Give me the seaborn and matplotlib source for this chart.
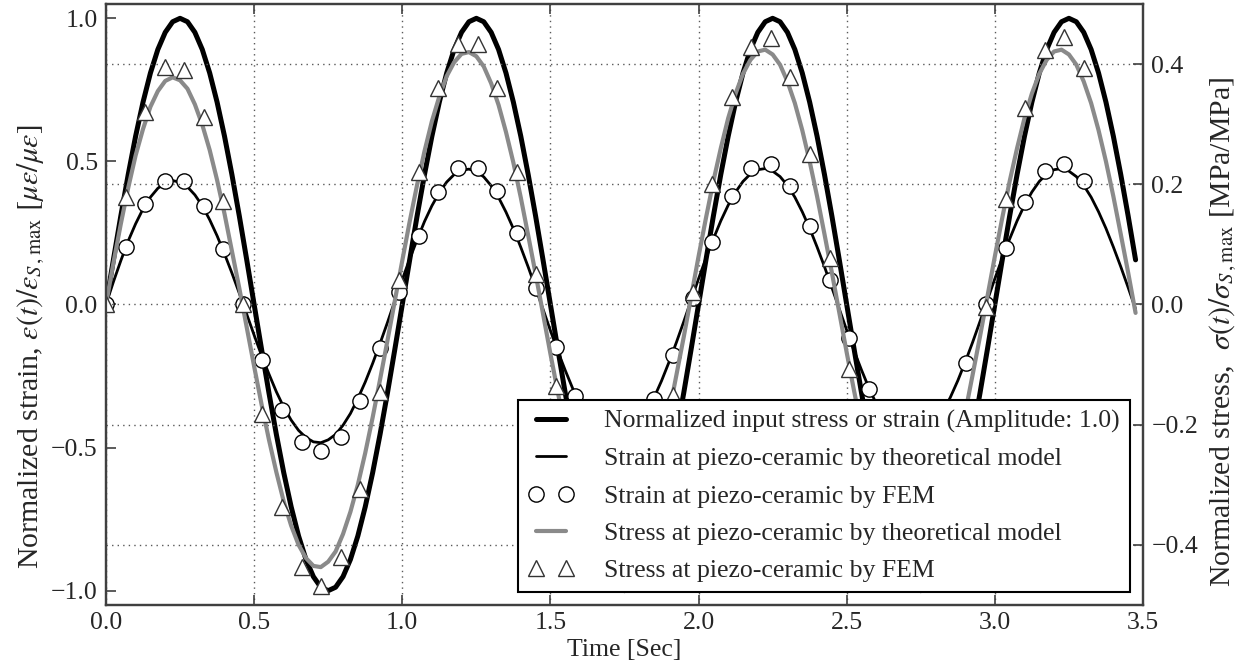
import matplotlib
matplotlib.use("Agg")
import matplotlib.pyplot as plt
import seaborn as sns

# ---------------------------------------------------------------------------
# Analytical curves, sampled every 0.025 s
# ---------------------------------------------------------------------------
time_model = [
    0.000, 0.025, 0.050, 0.075, 0.100, 0.125, 0.150, 0.175, 0.200, 0.225,
    0.250, 0.275, 0.300, 0.325, 0.350, 0.375, 0.400, 0.425, 0.450, 0.475,
    0.500, 0.525, 0.550, 0.575, 0.600, 0.625, 0.650, 0.675, 0.700, 0.725,
    0.750, 0.775, 0.800, 0.825, 0.850, 0.875, 0.900, 0.925, 0.950, 0.975,
    1.000, 1.025, 1.050, 1.075, 1.100, 1.125, 1.150, 1.175, 1.200, 1.225,
    1.250, 1.275, 1.300, 1.325, 1.350, 1.375, 1.400, 1.425, 1.450, 1.475,
    1.500, 1.525, 1.550, 1.575, 1.600, 1.625, 1.650, 1.675, 1.700, 1.725,
    1.750, 1.775, 1.800, 1.825, 1.850, 1.875, 1.900, 1.925, 1.950, 1.975,
    2.000, 2.025, 2.050, 2.075, 2.100, 2.125, 2.150, 2.175, 2.200, 2.225,
    2.250, 2.275, 2.300, 2.325, 2.350, 2.375, 2.400, 2.425, 2.450, 2.475,
    2.500, 2.525, 2.550, 2.575, 2.600, 2.625, 2.650, 2.675, 2.700, 2.725,
    2.750, 2.775, 2.800, 2.825, 2.850, 2.875, 2.900, 2.925, 2.950, 2.975,
    3.000, 3.025, 3.050, 3.075, 3.100, 3.125, 3.150, 3.175, 3.200, 3.225,
    3.250, 3.275, 3.300, 3.325, 3.350, 3.375, 3.400, 3.425, 3.450, 3.475,
]

# normalized input stress / strain (amplitude 1.0)
input_norm = [
    0.000, 0.156, 0.309, 0.454, 0.588, 0.707, 0.809, 0.891, 0.951, 0.988,
    1.000, 0.988, 0.951, 0.891, 0.809, 0.707, 0.588, 0.454, 0.309, 0.156,
    0.000, -0.156, -0.309, -0.454, -0.588, -0.707, -0.809, -0.891, -0.951, -0.988,
    -1.000, -0.988, -0.951, -0.891, -0.809, -0.707, -0.588, -0.454, -0.309, -0.156,
    0.000, 0.156, 0.309, 0.454, 0.588, 0.707, 0.809, 0.891, 0.951, 0.988,
    1.000, 0.988, 0.951, 0.891, 0.809, 0.707, 0.588, 0.454, 0.309, 0.156,
    0.000, -0.156, -0.309, -0.454, -0.588, -0.707, -0.809, -0.891, -0.951, -0.988,
    -1.000, -0.988, -0.951, -0.891, -0.809, -0.707, -0.588, -0.454, -0.309, -0.156,
    0.000, 0.156, 0.309, 0.454, 0.588, 0.707, 0.809, 0.891, 0.951, 0.988,
    1.000, 0.988, 0.951, 0.891, 0.809, 0.707, 0.588, 0.454, 0.309, 0.156,
    0.000, -0.156, -0.309, -0.454, -0.588, -0.707, -0.809, -0.891, -0.951, -0.988,
    -1.000, -0.988, -0.951, -0.891, -0.809, -0.707, -0.588, -0.454, -0.309, -0.156,
    0.000, 0.156, 0.309, 0.454, 0.588, 0.707, 0.809, 0.891, 0.951, 0.988,
    1.000, 0.988, 0.951, 0.891, 0.809, 0.707, 0.588, 0.454, 0.309, 0.156,
]

# strain at the piezo-ceramic, theoretical model [ue/ue]
strain_model = [
    0.000, 0.079, 0.153, 0.222, 0.282, 0.334, 0.375, 0.406, 0.425, 0.433,
    0.427, 0.411, 0.383, 0.345, 0.296, 0.240, 0.177, 0.110, 0.039, -0.034,
    -0.107, -0.178, -0.243, -0.305, -0.359, -0.404, -0.440, -0.465, -0.480, -0.483,
    -0.473, -0.454, -0.422, -0.381, -0.329, -0.271, -0.206, -0.136, -0.063, 0.013,
    0.087, 0.159, 0.226, 0.290, 0.345, 0.391, 0.428, 0.454, 0.469, 0.473,
    0.465, 0.446, 0.415, 0.374, 0.323, 0.265, 0.200, 0.131, 0.058, -0.017,
    -0.091, -0.163, -0.230, -0.293, -0.348, -0.394, -0.431, -0.457, -0.472, -0.476,
    -0.467, -0.448, -0.417, -0.376, -0.325, -0.267, -0.202, -0.133, -0.060, 0.015,
    0.090, 0.162, 0.229, 0.292, 0.347, 0.393, 0.430, 0.456, 0.471, 0.475,
    0.466, 0.447, 0.416, 0.375, 0.324, 0.266, 0.201, 0.132, 0.059, -0.016,
    -0.090, -0.162, -0.229, -0.292, -0.347, -0.393, -0.430, -0.456, -0.471, -0.475,
    -0.466, -0.447, -0.416, -0.375, -0.324, -0.266, -0.201, -0.132, -0.059, 0.016,
    0.090, 0.162, 0.229, 0.292, 0.347, 0.393, 0.430, 0.456, 0.471, 0.475,
    0.466, 0.447, 0.416, 0.375, 0.324, 0.266, 0.201, 0.132, 0.059, -0.016,
]

# stress at the piezo-ceramic, theoretical model [MPa/MPa]
stress_model = [
    0.000, 0.069, 0.134, 0.194, 0.248, 0.292, 0.329, 0.355, 0.372, 0.378,
    0.373, 0.359, 0.333, 0.299, 0.257, 0.207, 0.151, 0.089, 0.027, -0.038,
    -0.103, -0.166, -0.225, -0.279, -0.328, -0.368, -0.400, -0.422, -0.435, -0.437,
    -0.428, -0.411, -0.382, -0.345, -0.300, -0.247, -0.188, -0.125, -0.060, 0.007,
    0.073, 0.138, 0.199, 0.255, 0.305, 0.346, 0.380, 0.403, 0.417, 0.420,
    0.413, 0.396, 0.368, 0.332, 0.287, 0.236, 0.178, 0.115, 0.051, -0.016,
    -0.082, -0.146, -0.207, -0.262, -0.311, -0.352, -0.385, -0.408, -0.422, -0.425,
    -0.417, -0.400, -0.372, -0.336, -0.291, -0.239, -0.181, -0.118, -0.054, 0.013,
    0.080, 0.144, 0.205, 0.260, 0.310, 0.351, 0.384, 0.407, 0.421, 0.424,
    0.416, 0.399, 0.371, 0.335, 0.290, 0.238, 0.180, 0.117, 0.053, -0.014,
    -0.080, -0.144, -0.205, -0.260, -0.310, -0.351, -0.384, -0.407, -0.421, -0.424,
    -0.416, -0.399, -0.371, -0.335, -0.290, -0.238, -0.180, -0.117, -0.053, 0.014,
    0.080, 0.144, 0.205, 0.260, 0.310, 0.351, 0.384, 0.407, 0.421, 0.424,
    0.416, 0.399, 0.371, 0.335, 0.290, 0.238, 0.180, 0.117, 0.053, -0.014,
]

# ---------------------------------------------------------------------------
# FEM results (time step 0.066 s)
# ---------------------------------------------------------------------------
time_fem = [
    0.000, 0.066, 0.132, 0.198, 0.264, 0.330, 0.396, 0.462, 0.528, 0.594,
    0.660, 0.726, 0.792, 0.858, 0.924, 0.990, 1.056, 1.122, 1.188, 1.254,
    1.320, 1.386, 1.452, 1.518, 1.584, 1.650, 1.716, 1.782, 1.848, 1.914,
    1.980, 2.046, 2.112, 2.178, 2.244, 2.310, 2.376, 2.442, 2.508, 2.574,
    2.640, 2.706, 2.772, 2.838, 2.904, 2.970, 3.036, 3.102, 3.168, 3.234,
    3.300,
]

strain_fem = [
    0.000, 0.200, 0.352, 0.432, 0.430, 0.345, 0.195, 0.000, -0.195, -0.369,
    -0.480, -0.512, -0.463, -0.338, -0.153, 0.045, 0.240, 0.394, 0.477, 0.477,
    0.397, 0.250, 0.059, -0.150, -0.320, -0.460, -0.510, -0.455, -0.330, -0.178,
    0.024, 0.220, 0.380, 0.477, 0.490, 0.415, 0.275, 0.087, -0.118, -0.296,
    -0.440, -0.510, -0.480, -0.360, -0.206, 0.000, 0.199, 0.359, 0.467, 0.491,
    0.432,
]

stress_fem = [
    0.000, 0.179, 0.321, 0.395, 0.390, 0.312, 0.173, 0.000, -0.183, -0.337,
    -0.437, -0.468, -0.420, -0.307, -0.145, 0.040, 0.221, 0.360, 0.434, 0.433,
    0.360, 0.221, 0.050, -0.136, -0.300, -0.410, -0.450, -0.420, -0.310, -0.150,
    0.020, 0.201, 0.346, 0.429, 0.444, 0.379, 0.251, 0.078, -0.108, -0.270,
    -0.390, -0.450, -0.440, -0.350, -0.180, -0.005, 0.176, 0.327, 0.424, 0.445,
    0.394,
]

x_ticks = [0.0, 0.5, 1.0, 1.5, 2.0, 2.5, 3.0, 3.5]
strain_ticks = [-1.0, -0.5, 0.0, 0.5, 1.0]
stress_ticks = [-0.4, -0.2, 0.0, 0.2, 0.4]

labels = [
    "Normalized input stress or strain (Amplitude: 1.0)",
    "Strain at piezo-ceramic by theoretical model",
    "Strain at piezo-ceramic by FEM",
    "Stress at piezo-ceramic by theoretical model",
    "Stress at piezo-ceramic by FEM",
]

# ---------------------------------------------------------------------------
# Style
# ---------------------------------------------------------------------------
sns.set_style("ticks")
FS = 18.5
LABEL_FS = 21.5
SPINE = "0.25"
plt.rcParams.update({
    "font.family": ["Liberation Serif", "DejaVu Serif"],
    "mathtext.fontset": "stix",
    "font.size": FS,
    "axes.unicode_minus": True,
})

fig = plt.figure(figsize=(12.44, 6.67), dpi=100)
ax = fig.add_axes([0.0852, 0.093, 0.8336, 0.901])
ax2 = ax.twinx()

GRAY = "#8a8a8a"

sns.lineplot(x=time_model, y=input_norm, ax=ax, color="black", linewidth=3.6,
             estimator=None, sort=False, legend=False, label=labels[0])
sns.lineplot(x=time_model, y=strain_model, ax=ax, color="black", linewidth=2.0,
             estimator=None, sort=False, legend=False, label=labels[1])
sns.lineplot(x=time_fem, y=strain_fem, ax=ax, linestyle="none", marker="o",
             markersize=11, markerfacecolor="white", markeredgecolor="black",
             markeredgewidth=1.0, estimator=None, sort=False, legend=False,
             label=labels[2])

sns.lineplot(x=time_model, y=stress_model, ax=ax2, color=GRAY, linewidth=3.0,
             estimator=None, sort=False, legend=False, label=labels[3])
sns.lineplot(x=time_fem, y=stress_fem, ax=ax2, linestyle="none", marker="^",
             markersize=12, markerfacecolor="white", markeredgecolor="0.2",
             markeredgewidth=1.0, estimator=None, sort=False, legend=False,
             label=labels[4])

# axes limits and ticks
ax.set_xlim(0.0, 3.5)
ax.set_ylim(-1.05, 1.05)
ax2.set_ylim(-0.5, 0.5)
ax.set_xticks(x_ticks)
ax.set_yticks(strain_ticks)
ax2.set_yticks(stress_ticks)

for a in (ax, ax2):
    for sp in a.spines.values():
        sp.set_visible(True)
        sp.set_linewidth(1.6)
        sp.set_color(SPINE)
ax.tick_params(axis="x", which="both", direction="in", top=True, bottom=True,
               length=7, width=1.2, color=SPINE, labelsize=FS, pad=5)
ax.tick_params(axis="y", direction="in", left=True, right=False,
               length=7, width=1.2, color=SPINE, labelsize=FS, pad=6)
ax2.tick_params(axis="y", direction="in", right=True, left=False,
                length=7, width=1.2, color=SPINE, labelsize=FS, pad=6)

# dotted grid: vertical from time axis, horizontal from stress axis
ax.xaxis.grid(True, linestyle=(0, (1, 3)), color="0.35", linewidth=1.0)
ax.yaxis.grid(False)
ax2.yaxis.grid(True, linestyle=(0, (1, 3)), color="0.35", linewidth=1.0)
ax2.xaxis.grid(False)

ax.set_xlabel("Time [Sec]", fontsize=FS, labelpad=4)
ax.set_ylabel(r"Normalized strain, $\epsilon(t)/\epsilon_{S\,,\mathrm{max}}$ $[\mu\epsilon/\mu\epsilon]$",
              fontsize=LABEL_FS, labelpad=3)
ax2.set_ylabel(r"Normalized stress,  $\sigma(t)/\sigma_{S\,,\mathrm{max}}$ [MPa/MPa]",
               fontsize=LABEL_FS, labelpad=7)
ax.yaxis.label.set_y(0.43)
ax2.yaxis.label.set_y(0.455)

# combined legend on top of both axes
h1, l1 = ax.get_legend_handles_labels()
h2, l2 = ax2.get_legend_handles_labels()
lookup = dict(zip(l1 + l2, h1 + h2))
leg = ax2.legend([lookup[l] for l in labels], labels, loc="lower right",
                 fontsize=FS, numpoints=2, frameon=True, fancybox=False,
                 framealpha=1.0, edgecolor="black", handlelength=1.75,
                 handletextpad=1.2, borderaxespad=0.5, labelspacing=0.55)
leg.get_frame().set_linewidth(1.5)

fig.savefig("out.png", dpi=100)
